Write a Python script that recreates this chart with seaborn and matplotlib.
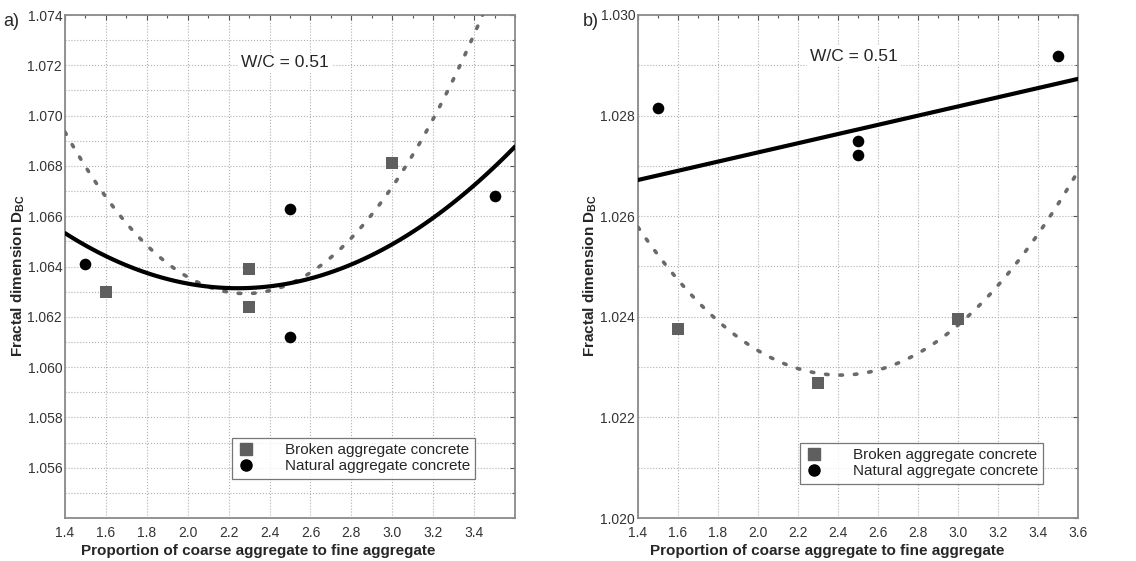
import numpy as np
import pandas as pd
import matplotlib
matplotlib.use("Agg")
import matplotlib.pyplot as plt
from matplotlib.ticker import MultipleLocator, FixedLocator, FixedFormatter
import seaborn as sns

sns.set_style("white")
plt.rcParams['font.family'] = ['Liberation Sans', 'DejaVu Sans']
plt.rcParams['mathtext.fontset'] = 'custom'
plt.rcParams['mathtext.rm'] = 'Liberation Sans'
plt.rcParams['mathtext.bf'] = 'Liberation Sans:bold'

# ========== data ==========
# panel a)
a_broken_x = [1.6, 2.3, 2.3, 3.0]
a_broken_y = [1.0630, 1.0639, 1.0624, 1.0681]
a_natural_x = [1.5, 2.5, 2.5, 3.5]
a_natural_y = [1.0641, 1.0663, 1.0612, 1.0668]
# points (quadratic fits)
a_fit_broken_x = [1.4, 2.0, 2.3, 3.0, 3.44]
a_fit_broken_y = [1.0695, 1.0633, 1.0628, 1.0677, 1.0737]
a_fit_natural_x = [1.4, 2.2, 3.0, 3.6]
a_fit_natural_y = [1.06533, 1.06313, 1.0649, 1.06876]

# panel b)
b_broken_x = [1.6, 2.3, 3.0]
b_broken_y = [1.02376, 1.02269, 1.02396]
b_natural_x = [1.5, 2.5, 2.5, 3.5]
b_natural_y = [1.02815, 1.02749, 1.02721, 1.02918]
b_fit_broken_x = [1.4, 2.0, 2.42, 3.0, 3.6]
b_fit_broken_y = [1.02579, 1.02332, 1.02282, 1.02387, 1.02688]
b_fit_natural_x = [1.4, 3.6]
b_fit_natural_y = [1.02672, 1.02873]

a_yticks = [1.056, 1.058, 1.060, 1.062, 1.064, 1.066, 1.068, 1.070, 1.072, 1.074]
b_yticks = [1.020, 1.022, 1.024, 1.026, 1.028, 1.030]
a_xticks = [1.4, 1.6, 1.8, 2.0, 2.2, 2.4, 2.6, 2.8, 3.0, 3.2, 3.4]
b_xticks = [1.4, 1.6, 1.8, 2.0, 2.2, 2.4, 2.6, 2.8, 3.0, 3.2, 3.4, 3.6]

labels = ["Broken aggregate concrete", "Natural aggregate concrete"]
wc_text = "W/C = 0.51"
xlabel = "Proportion of coarse aggregate to fine aggregate"
ylabel = r"Fractal dimension D$_{\mathbf{BC}}$"

GRAY = "#5f5f5f"
DOT = "#6a6a6a"

fig = plt.figure(figsize=(11.36, 5.61), dpi=100)
W, H = 1136, 561
ax_a = fig.add_axes([65 / W, 1 - 518 / H, 450 / W, 503 / H])
ax_b = fig.add_axes([638 / W, 1 - 518 / H, 440 / W, 503 / H])


def draw_panel(ax, bx, by, nx, ny, fbx, fby, fnx, fny, nat_order, ylim, yticks,
               xticks, wc_pos, leg_pos, ylab_x):
    ax.set_xlim(1.4, 3.6)
    ax.set_ylim(*ylim)

    # fitted curves
    sns.regplot(x=fbx, y=fby, order=2, ci=None, scatter=False, truncate=False, ax=ax,
                line_kws=dict(color=DOT, lw=2.6, linestyle=(0, (0.7, 3.3)),
                              dash_capstyle='round', zorder=3))
    sns.regplot(x=fnx, y=fny, order=nat_order, ci=None, scatter=False, truncate=False,
                ax=ax, line_kws=dict(color="black", lw=3, zorder=3))

    # measured points
    sns.scatterplot(x=bx, y=by, marker="s", s=78, color=GRAY, edgecolor=GRAY,
                    linewidth=0, ax=ax, zorder=4)
    sns.scatterplot(x=nx, y=ny, marker="o", s=70, color="black", edgecolor="black",
                    linewidth=0, ax=ax, zorder=4)

    ax.set_xlim(1.4, 3.6)
    ax.set_ylim(*ylim)

    ax.xaxis.set_major_locator(FixedLocator(xticks))
    ax.xaxis.set_major_formatter(FixedFormatter([f"{t:.1f}" for t in xticks]))
    ax.xaxis.set_minor_locator(MultipleLocator(0.1))
    ax.yaxis.set_major_locator(FixedLocator(yticks))
    ax.yaxis.set_major_formatter(FixedFormatter([f"{t:.3f}" for t in yticks]))
    ax.yaxis.set_minor_locator(MultipleLocator(0.001))

    ax.tick_params(which="both", direction="in", top=True, right=True,
                   labelsize=10, labelcolor="#333333", color="#555555")
    ax.tick_params(which="major", length=3.5, width=0.8)
    ax.tick_params(which="minor", length=2.5, width=0.8)
    ax.tick_params(axis="x", pad=6)
    ax.tick_params(axis="y", pad=2)

    ax.grid(True, which="major", color="#b0b0b0", linestyle=":", linewidth=0.8)
    ax.grid(True, which="minor", axis="y", color="#b0b0b0", linestyle=":", linewidth=0.8)
    ax.set_axisbelow(True)
    for sp in ax.spines.values():
        sp.set_color("#8a8a8a")
        sp.set_linewidth(1.3)

    ax.text(wc_pos[0], wc_pos[1], wc_text, fontsize=12.5, ha="center", va="center",
            bbox=dict(facecolor="white", edgecolor="none", pad=2), zorder=2)

    ax.set_xlabel(xlabel, fontsize=11, fontweight="bold")
    ax.xaxis.set_label_coords(0.43, -0.052)
    ax.set_ylabel(ylabel, fontsize=11, fontweight="bold")
    ax.yaxis.set_label_coords(ylab_x, 0.483)

    handles = [
        plt.Line2D([], [], marker="s", color=GRAY, linestyle="none", markersize=8),
        plt.Line2D([], [], marker="o", color="black", linestyle="none", markersize=8),
    ]
    leg = ax.legend(handles, labels, loc="lower left", bbox_to_anchor=leg_pos,
                    fontsize=11, frameon=True, fancybox=False, handletextpad=1.9,
                    borderpad=0.35, labelspacing=0.15, handlelength=1.2,
                    borderaxespad=0)
    leg.get_frame().set_edgecolor("#555555")
    leg.get_frame().set_linewidth(0.9)


draw_panel(ax_a, a_broken_x, a_broken_y, a_natural_x, a_natural_y,
           a_fit_broken_x, a_fit_broken_y, a_fit_natural_x, a_fit_natural_y, 2,
           (1.054, 1.074), a_yticks, a_xticks, (2.475, 1.0721), (0.371, 0.078), -0.084)
draw_panel(ax_b, b_broken_x, b_broken_y, b_natural_x, b_natural_y,
           b_fit_broken_x, b_fit_broken_y, b_fit_natural_x, b_fit_natural_y, 1,
           (1.020, 1.030), b_yticks, b_xticks, (2.48, 1.02917), (0.368, 0.068), -0.088)

fig.text(3 / W, 1 - 21 / H, "a)", fontsize=13, ha="left", va="center")
fig.text(583 / W, 1 - 21 / H, "b)", fontsize=13, ha="left", va="center")

fig.savefig("out.png", dpi=100)
